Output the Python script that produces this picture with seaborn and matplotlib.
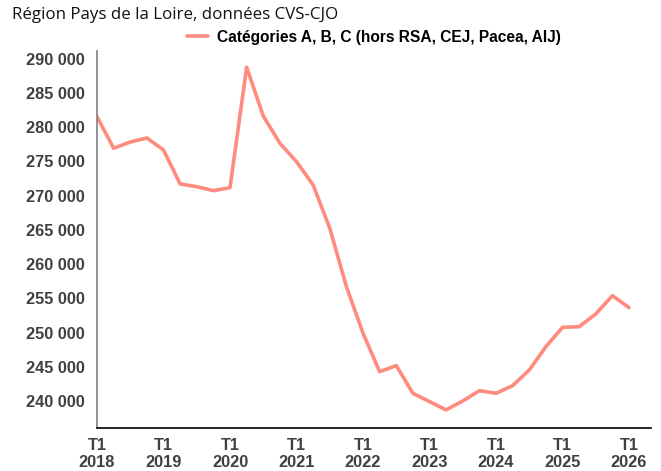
import matplotlib
matplotlib.use("Agg")
import matplotlib.pyplot as plt
import matplotlib.ticker as mticker
import seaborn as sns
import pandas as pd
import numpy as np

# Data: quarterly, T1 2018 .. T1 2026
quarters = [f"T{q} {y}" for y in range(2018, 2027) for q in range(1, 5)][:33]
values = [281530, 276910, 277830, 278420, 276660, 271700, 271300, 270720,
          271160, 288740, 281630, 277640, 274950, 271550, 265230, 256700,
          249890, 244280, 245160, 241120, 239900, 238690, 240000, 241500,
          241120, 242240, 244530, 247930, 250760, 250850, 252710, 255380,
          253630]
series_name = "Catégories A, B, C (hors RSA, CEJ, Pacea, AIJ)"
year_labels = [f"T1\n{y}" for y in range(2018, 2027)]
y_ticks = [240000, 245000, 250000, 255000, 260000, 265000, 270000, 275000,
           280000, 285000, 290000]
title = "Région Pays de la Loire, données CVS-CJO"

df = pd.DataFrame({"idx": np.arange(len(values)), "val": values,
                   "serie": series_name})

sns.set_theme(style="white")
plt.rcParams["font.family"] = ["Liberation Sans", "DejaVu Sans"]

fig = plt.figure(figsize=(6.61, 4.71), dpi=100)
ax = fig.add_axes([97/661, 1-428/471, (651-97)/661, (428-51)/471])

color = "#FF8B7E"
sns.lineplot(data=df, x="idx", y="val", hue="serie", palette=[color],
             linewidth=2.6, ax=ax)

ax.set_xlim(0, 33.32)
ax.set_ylim(236050, 291120)
ax.set_xticks(np.arange(0, 33, 4))
ax.set_xticklabels(year_labels)
ax.set_yticks(y_ticks)
ax.yaxis.set_major_formatter(mticker.FuncFormatter(lambda v, p: f"{int(v):,}".replace(",", " ")))
ax.set_xlabel("")
ax.set_ylabel("")

for lab in ax.get_xticklabels() + ax.get_yticklabels():
    lab.set_fontweight("bold")
    lab.set_fontsize(11.8)
    lab.set_color("#404040")
ax.tick_params(axis="y", direction="out", length=4, width=1, color="#606060", pad=5)
ax.tick_params(axis="x", direction="out", length=4, width=1, color="#000000", pad=3)
for lab in ax.get_xticklabels():
    lab.set_linespacing(1.15)

sns.despine(ax=ax, top=True, right=True)
ax.spines["left"].set_color("#808080")
ax.spines["left"].set_linewidth(1.2)
ax.spines["bottom"].set_color("#000000")
ax.spines["bottom"].set_linewidth(1.2)

leg = ax.legend(loc="lower center", bbox_to_anchor=(0.5, 1.0), frameon=False,
                handlelength=1.3, handletextpad=0.6, borderaxespad=0.0,
                prop={"weight": "bold", "size": 11.2})
for t in leg.get_texts():
    t.set_color("#000000")

fig.text(12/661, 1-15/471, title, fontsize=12.2, family=["Open Sans", "DejaVu Sans"],
         va="center", ha="left", color="#111111")

fig.savefig("out.png", dpi=100)
